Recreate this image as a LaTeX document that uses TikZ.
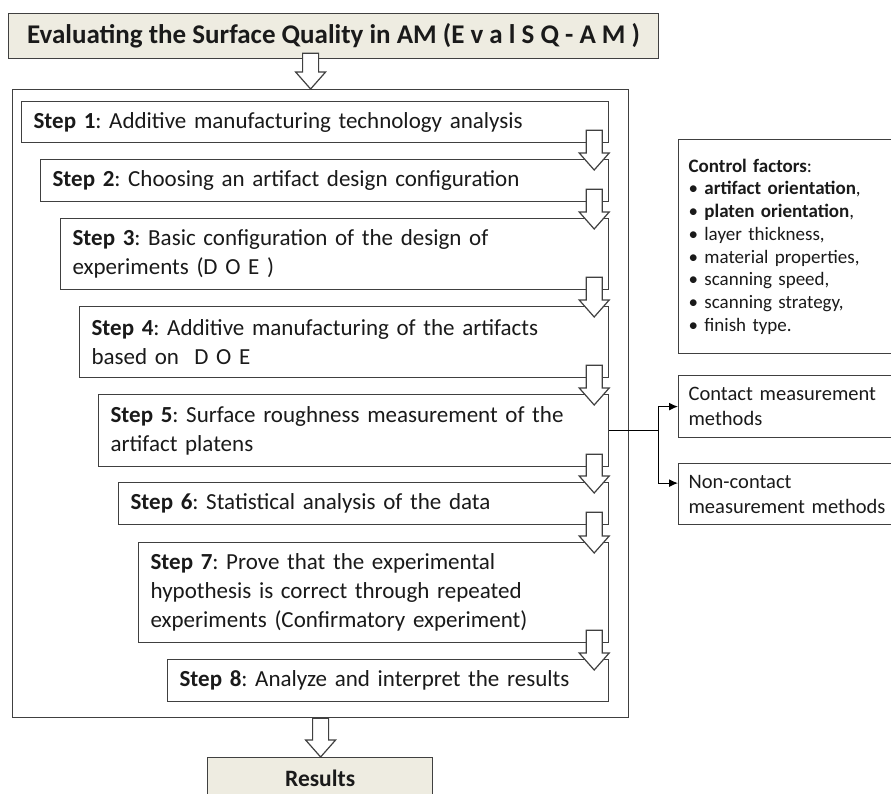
\documentclass[tikz,border=0pt]{standalone}
\usepackage{fontspec}
\setmainfont{Carlito}
\usetikzlibrary{calc,arrows.meta}
\frenchspacing

\definecolor{boxline}{HTML}{404040}
\definecolor{paper}{HTML}{EEECE1}
\definecolor{ink}{HTML}{1A1A1A}

\tikzset{
  stepbox/.style 2 args={draw=boxline, line width=1.2pt, fill=white, anchor=north west,
    inner xsep=12pt, inner ysep=2pt, text width=#1, minimum height=#2, align=left,
    text=ink, font=\fontsize{23}{29}\selectfont},
  headbox/.style={draw=boxline, line width=1.2pt, fill=paper, anchor=north west,
    text=ink, font=\bfseries\fontsize{27}{30}\selectfont},
  sidebox/.style={draw=boxline, line width=1.2pt, fill=white, anchor=north west,
    inner xsep=10pt, align=left, text=ink},
  hollow/.style={draw=boxline, line width=1.2pt, fill=white},
  link/.style={line width=1.2pt, draw=black}
}

% hollow block arrow: #1 = top of the shaft, #2 = tip
\newcommand{\blockdown}[2]{%
  \draw[hollow] let \p1=(#1), \p2=(#2) in
    (\x1-8pt,\y1) -- (\x1+8pt,\y1) -- (\x1+8pt,\y2+17pt) -- (\x1+15pt,\y2+17pt)
    -- (\x1,\y2) -- (\x1-15pt,\y2+17pt) -- (\x1-8pt,\y2+17pt) -- cycle;}

\begin{document}
\begin{tikzpicture}[x=1pt,y=-1pt]
\clip (0,0) rectangle (891,794);

% Title and frame
\node[headbox, minimum width=650pt, minimum height=45pt] (title) at (8,13)
  {Evaluating the Surface Quality in AM (E v a l S Q - A M )};
\node[draw=boxline, line width=1.2pt, anchor=north west, minimum width=616pt, minimum height=628pt] (frame) at (12,89) {};

% Steps
\node[stepbox={563pt}{41pt}] (s1) at (21,101) {\textbf{Step 1}: Additive manufacturing technology analysis};
\node[stepbox={544pt}{42pt}] (s2) at (40,159) {\textbf{Step 2}: Choosing an artifact design configuration};
\node[stepbox={524pt}{71pt}] (s3) at (60,218) {\textbf{Step 3}: Basic configuration of the design of\\experiments (D O E )};
\node[stepbox={505pt}{71pt}] (s4) at (79,306) {\textbf{Step 4}: Additive manufacturing of the artifacts\\based on~ D O E};
\node[stepbox={486pt}{72pt}] (s5) at (98,394) {\textbf{Step 5}: Surface roughness measurement of the\\artifact platens};
\node[stepbox={466pt}{42pt}] (s6) at (118,482) {\textbf{Step 6}: Statistical analysis of the data};
\node[stepbox={446pt}{100pt}] (s7) at (138,542) {\textbf{Step 7}: Prove that the experimental\\hypothesis is correct through repeated\\experiments (Confirmatory experiment)};
\node[stepbox={417pt}{42pt}] (s8) at (167,659) {\textbf{Step 8}: Analyze and interpret the results};

% Results
\node[headbox, minimum width=225pt, minimum height=42pt, font=\bfseries\fontsize{23.5}{27}\selectfont] (results) at (207,757) {Results};

% Block arrows
\blockdown{$(title.south)+(-23,-6)$}{frame.north}
\foreach \a/\b in {s1/s2,s2/s3,s3/s4,s4/s5,s5/s6,s6/s7,s7/s8}
  \blockdown{$(\a.south east)+(-15,-13)$}{$(\b.north east)+(-15,11)$};
\blockdown{frame.south}{results.north}

% Side boxes
\node[sidebox, text width=220pt, minimum height=214pt, font=\fontsize{19}{22.7}\selectfont] (factors) at (678,139)
  {\textbf{Control factors}:\\
   • \textbf{artifact orientation},\\
   • \textbf{platen orientation},\\
   • layer thickness,\\
   • material properties,\\
   • scanning speed,\\
   • scanning strategy,\\
   • finish type.};
\node[sidebox, text width=220pt, minimum height=62pt, font=\fontsize{20.5}{25}\selectfont] (contact) at (678,375)
  {Contact measurement\\methods};
\node[sidebox, text width=220pt, minimum height=61pt, font=\fontsize{20.5}{25}\selectfont] (noncontact) at (678,463)
  {Non-contact\\measurement methods};

% Measurement links
\draw[link] (s5.east) -- ++(49,0) coordinate (fork);
\draw[link, -{Latex[length=9pt,width=8pt]}] (fork) |- (contact.west);
\draw[link, -{Latex[length=9pt,width=8pt]}] (fork) |- ([yshift=11pt]noncontact.west);
\end{tikzpicture}
\end{document}
